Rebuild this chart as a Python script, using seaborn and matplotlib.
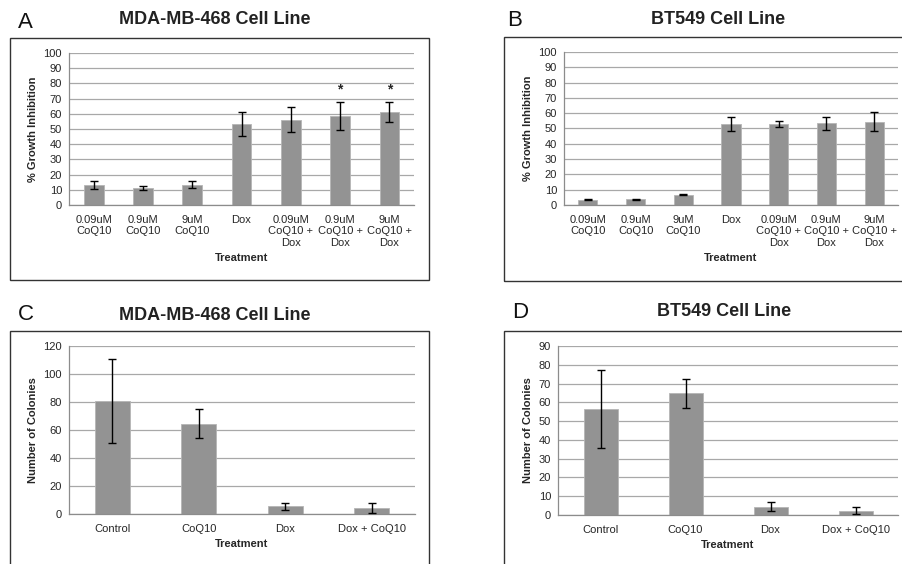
import numpy as np
import pandas as pd
import matplotlib
matplotlib.use("Agg")
import matplotlib.pyplot as plt
import seaborn as sns
from matplotlib.patches import Rectangle

# ---------------- data ----------------
treat_ab = ["0.09uM\nCoQ10", "0.9uM\nCoQ10", "9uM\nCoQ10", "Dox",
            "0.09uM\nCoQ10 +\nDox", "0.9uM\nCoQ10 +\nDox", "9uM\nCoQ10 +\nDox"]
a_vals = [13.2, 11.2, 13.4, 53.5, 56.1, 58.6, 61.0]
a_err = [2.4, 1.1, 2.5, 7.8, 8.1, 9.0, 6.7]
a_star = ["", "", "", "", "", "*", "*"]
a_star_y = 76

b_vals = [3.5, 3.7, 6.8, 52.9, 53.0, 53.4, 54.5]
b_err = [0.4, 0.3, 0.4, 4.5, 2.2, 4.1, 6.2]

treat_cd = ["Control", "CoQ10", "Dox", "Dox + CoQ10"]
c_vals = [81.0, 64.5, 5.5, 4.5]
c_err = [30.0, 10.3, 2.3, 3.6]

d_vals = [56.3, 64.9, 4.5, 2.3]
d_err = [20.7, 7.7, 2.4, 2.0]

# ---------------- style ----------------
sns.set_style("white")
plt.rcParams["font.family"] = ["Liberation Sans", "DejaVu Sans"]

BAR = "#939393"
GRID = "#a8a8a8"
AXC = "#8c8c8c"
W, H = 902, 564
FS = 8

fig = plt.figure(figsize=(W / 100, H / 100), dpi=100)


def fx(x):
    return x / W


def fy(y):
    return 1 - y / H


def frame(l, t, r, b):
    fig.add_artist(Rectangle((fx(l), fy(b)), (r - l) / W, (b - t) / H,
                             transform=fig.transFigure, fill=False,
                             ec="#333333", lw=1.0, clip_on=False))


def panel(ax_px, cats, vals, errs, ymax, ystep, ylabel, stars=None, star_y=None):
    l, t, r, b = ax_px
    ax = fig.add_axes([fx(l), fy(b), (r - l) / W, (b - t) / H])
    df = pd.DataFrame({"Treatment": cats, "val": vals})
    sns.barplot(data=df, x="Treatment", y="val", color=BAR, saturation=1,
                width=0.4, ax=ax, errorbar=None, edgecolor="#b5b5b5", linewidth=0.6)
    xs = ax.get_xticks()
    ax.errorbar(xs, vals, yerr=errs, fmt="none", ecolor="black",
                elinewidth=1.0, capsize=3, capthick=1.0, zorder=5)
    if stars is not None:
        for xv, s in zip(xs, stars):
            if s:
                ax.text(xv, star_y, s, ha="center", va="center",
                        fontsize=10, fontweight="bold")
    n = len(cats)
    ax.set_xlim(-0.5, n - 0.5)
    ax.set_ylim(0, ymax)
    ax.set_yticks(np.arange(0, ymax + 0.1, ystep))
    ax.yaxis.grid(True, color=GRID, lw=0.9)
    ax.set_axisbelow(True)
    for s in ["top", "right"]:
        ax.spines[s].set_visible(False)
    for s in ["left", "bottom"]:
        ax.spines[s].set_color(AXC)
        ax.spines[s].set_linewidth(0.9)
    ax.set_xticks(np.arange(-0.5, n, 1), minor=True)
    ax.tick_params(axis="x", which="major", length=0, pad=7, labelsize=FS)
    ax.tick_params(axis="x", which="minor", length=4, color=AXC, width=0.8)
    ax.tick_params(axis="y", length=3, color=AXC, width=0.8, labelsize=FS, pad=2)
    ax.set_xlabel("Treatment", fontsize=FS, fontweight="bold", labelpad=4)
    ax.set_ylabel(ylabel, fontsize=FS, fontweight="bold", labelpad=4)
    return ax


# frames
frame(10, 38, 429, 280)
frame(504, 37, 915, 281)
frame(10, 331, 429, 575)
frame(504, 331, 915, 575)

# panels
panel((69, 53, 414, 205), treat_ab, a_vals, a_err, 100, 10,
      "% Growth Inhibition", stars=a_star, star_y=a_star_y)
panel((564, 52, 898, 205), treat_ab, b_vals, b_err, 100, 10,
      "% Growth Inhibition")
panel((69, 346, 415, 514), treat_cd, c_vals, c_err, 120, 20,
      "Number of Colonies")
panel((558, 346, 898, 515), treat_cd, d_vals, d_err, 90, 10,
      "Number of Colonies")

# titles and letters
title_kw = dict(fontsize=13, fontweight="bold", ha="center", va="center", color="#222222")
fig.text(fx(215), fy(20), "MDA-MB-468 Cell Line", **title_kw)
fig.text(fx(718), fy(19), "BT549 Cell Line", **title_kw)
fig.text(fx(215), fy(315), "MDA-MB-468 Cell Line", **title_kw)
fig.text(fx(724), fy(312), "BT549 Cell Line", **title_kw)

letter_kw = dict(fontsize=16, ha="left", va="center", color="#111111")
fig.text(fx(18), fy(22), "A", **letter_kw)
fig.text(fx(507), fy(20), "B", **letter_kw)
fig.text(fx(18), fy(315), "C", **letter_kw)
fig.text(fx(512), fy(312), "D", **letter_kw)

fig.savefig("out.png", dpi=100, facecolor="white")
